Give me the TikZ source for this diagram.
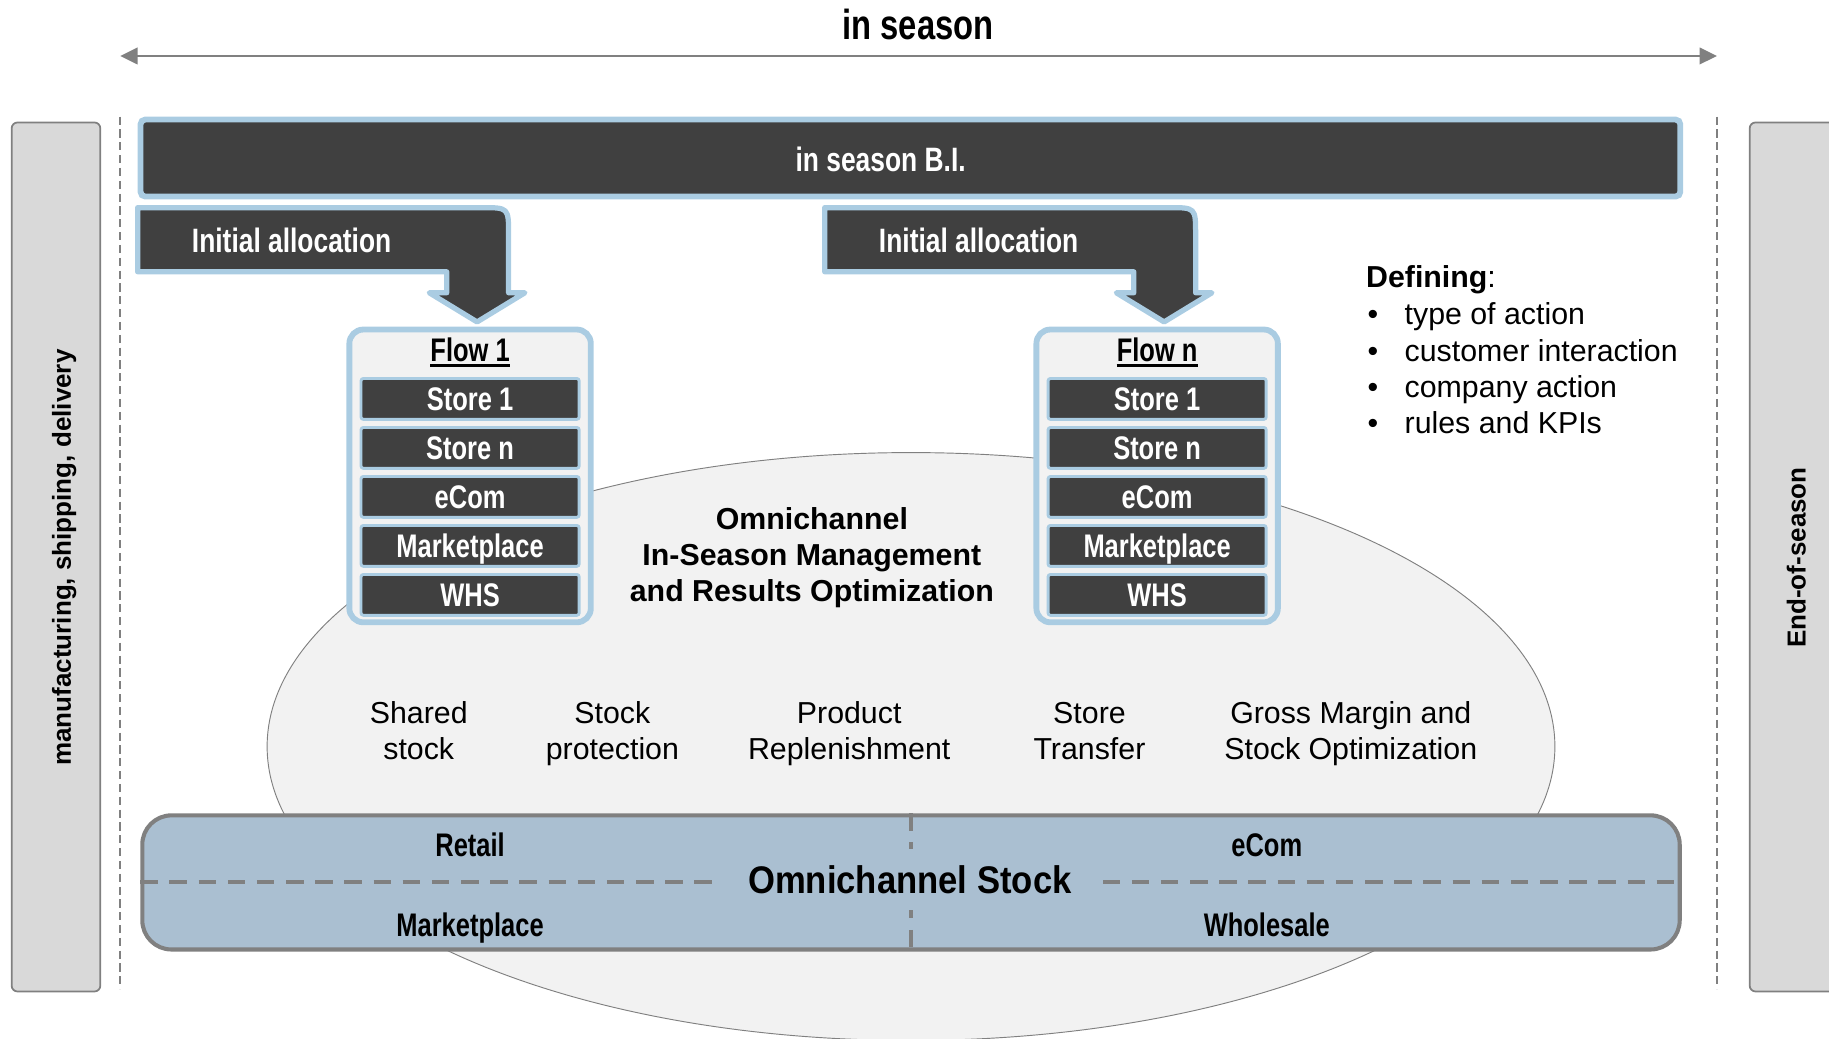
\documentclass[tikz,border=0pt]{standalone}
\usepackage{fontspec}
\setmainfont{Liberation Sans}
\newfontfamily\narrowfont[FakeStretch=0.78]{Liberation Sans}
\newfontfamily\stockfont[FakeStretch=0.9]{Liberation Sans}
\usetikzlibrary{arrows.meta}
\definecolor{darkbar}{RGB}{64, 64, 64}
\definecolor{frameblue}{RGB}{170, 204, 226}
\definecolor{stockblue}{RGB}{170, 191, 209}
\definecolor{sidegray}{RGB}{217, 217, 217}
\definecolor{linegray}{RGB}{128, 128, 128}
\definecolor{paleback}{RGB}{242, 242, 242}

\begin{document}
\begin{tikzpicture}[x=1pt, y=-1pt,
  sidebar/.style={draw=linegray, line width=1.5pt, fill=sidegray, rounded corners=5pt},
  sidetext/.style={rotate=90, font={\bfseries\fontsize{22.3}{26}\selectfont}},
  guide/.style={draw=linegray, line width=1.2pt, dash pattern=on 7pt off 4pt},
  seasonarrow/.style={draw=linegray, line width=2.5pt, arrows={Triangle[length=15pt,width=14pt]-Triangle[length=15pt,width=14pt]}},
  biband/.style={draw=frameblue, line width=5pt, fill=darkbar, rounded corners=4pt},
  whitehead/.style={text=white, font={\narrowfont\bfseries\fontsize{29}{32}\selectfont}},
  allocarrow/.style={draw=frameblue, line width=4.5pt, fill=darkbar, line join=round},
  flowframe/.style={draw=frameblue, line width=5pt, fill=paleback, rounded corners=12pt,
    minimum width=207pt, minimum height=251pt},
  flowtitle/.style={inner sep=0pt, font={\narrowfont\bfseries\fontsize{28}{30}\selectfont}},
  storebox/.style={draw=frameblue, line width=2.5pt, fill=darkbar, rounded corners=2pt,
    minimum width=187pt, minimum height=35pt, inner sep=0pt, text=white,
    text height=20pt, text depth=0pt,
    font={\narrowfont\bfseries\fontsize{28}{30}\selectfont}},
  levertext/.style={align=center, font={\fontsize{26}{31}\selectfont},
    execute at begin node=\strut, execute at end node=\strut},
  deftext/.style={inner sep=0pt, text height=19pt, text depth=6pt, font={\fontsize{26}{31}\selectfont}},
  stockbar/.style={draw=linegray, line width=3.5pt, fill=stockblue, rounded corners=25pt,
    minimum width=1318pt, minimum height=115pt},
  stockdash/.style={draw=linegray, line width=3.5pt, dash pattern=on 15pt off 10pt},
  stocklabel/.style={text height=20pt, text depth=0pt,
    font={\narrowfont\bfseries\fontsize{28}{30}\selectfont}}]

  \useasboundingbox (0,0) rectangle (1568,890);

  % season span
  \coordinate (seasonL) at (103,48);
  \coordinate (seasonR) at (1472,48);
  \draw[seasonarrow] (seasonL) -- (seasonR);
  \node[font={\narrowfont\bfseries\fontsize{36}{40}\selectfont}] (seasontitle) at (787,21) {in season};

  % side phases
  \node[sidebar, minimum width=76pt, minimum height=745pt] (supplybox) at (48,477.5) {};
  \node[sidetext] (supplylabel) at (55,478) {manufacturing, shipping, delivery};
  \node[sidebar, minimum width=80pt, minimum height=745pt] (endbox) at (1540,477.5) {};
  \node[sidetext] (endlabel) at (1540,478) {End-of-season};
  \draw[guide] (103,100) -- (103,848);
  \draw[guide] (1472,100) -- (1472,848);

  % optimization area
  \draw[fill=paleback, draw=linegray, line width=0.8pt] (781,640) ellipse [x radius=552pt, y radius=252pt];
  \node[align=center, font={\bfseries\fontsize{26}{31}\selectfont}] (omnititle) at (696,478)
    {Omnichannel\\In-Season Management\\and Results Optimization};
  \foreach \x/\lbl [count=\j] in {359/{Shared\\stock}, 525/{Stock\\protection},
      728/{Product\\Replenishment}, 934/{Store\\Transfer}, 1158/{Gross Margin and\\Stock Optimization}}
    \node[levertext] (lever\j) at (\x,631) {\lbl};

  % omnichannel stock
  \node[stockbar] (stock) at (781,756.5) {};
  \draw[stockdash] (stock.west) -- (stock.east);
  \draw[stockdash] (stock.north) -- (stock.south);
  \node[fill=stockblue, inner xsep=27pt, inner ysep=14pt,
    font={\stockfont\bfseries\fontsize{33}{36}\selectfont}] (stocktitle) at (780,754) {Omnichannel Stock};
  \node[stocklabel] (retail) at (403,724) {Retail};
  \node[stocklabel] (ecom) at (1086,724) {eCom};
  \node[stocklabel] (market) at (403,793) {Marketplace};
  \node[stocklabel] (wholesale) at (1086,793) {Wholesale};

  % in season B.I.
  \node[biband, minimum width=1320pt, minimum height=66pt] (bi) at (780.5,135.5) {};
  \node[whitehead] (bilabel) at (755,137) {in season B.I.};

  % flows
  \foreach \dx/\fl/\ftitle in {0/flowa/Flow 1, 589/flowb/Flow n} {
    \begin{scope}[xshift=\dx pt]
      \draw[allocarrow] (118,178) -- (413,178) .. controls (436,178) .. (436,201) -- (436,251)
        -- (450,251) -- (409,276) -- (368,251) -- (383,251) -- (383,233) -- (118,233) -- cycle;
      \node[whitehead] (\fl-alloc) at (250,206) {Initial allocation};
      \node[flowframe] (\fl) at (403,408) {};
      \node[flowtitle] (\fl-title) at (403,300) {\ftitle};
      \draw[line width=2.5pt] ([yshift=-3pt]\fl-title.south west) -- ([yshift=-3pt]\fl-title.south east);
      \foreach \store [count=\i] in {Store 1, Store n, eCom, Marketplace, WHS}
        \node[storebox] (\fl-\i) at (403,{300+42*\i}) {\store};
    \end{scope}
  }

  % defining
  \node[deftext, anchor=west] (defhead) at (1171,240) {\textbf{Defining}:};
  \foreach \entry [count=\k] in {type of action, customer interaction, company action, rules and KPIs} {
    \node[deftext] (bullet\k) at (1177,{241+31*\k}) {•};
    \node[deftext, anchor=west] (entry\k) at (1204,{241+31*\k}) {\entry};
  }

\end{tikzpicture}
\end{document}
